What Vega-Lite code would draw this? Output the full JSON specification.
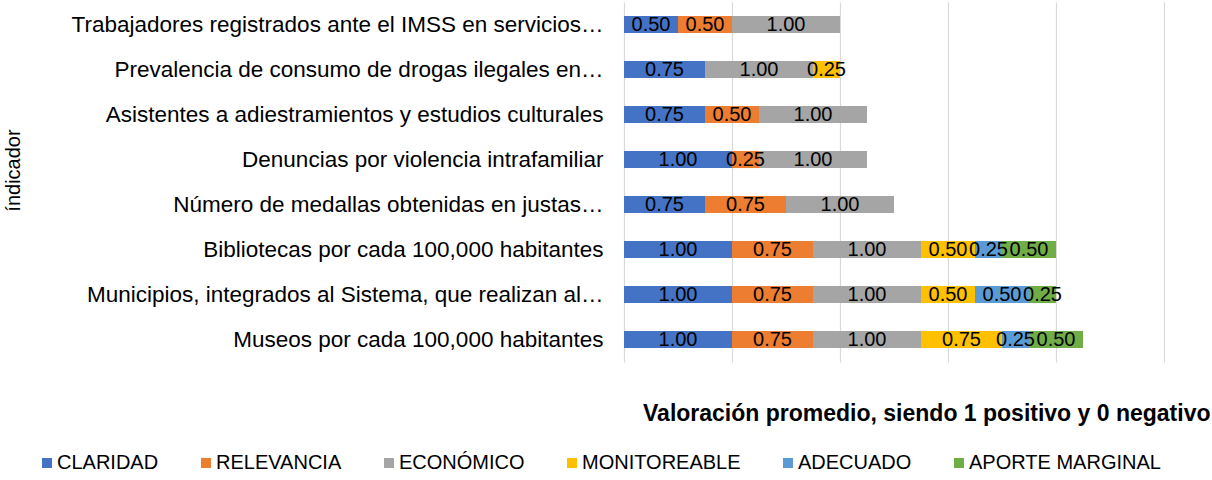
{
  "$schema": "https://vega.github.io/schema/vega-lite/v6.json",
  "autosize": "none",
  "width": 540,
  "height": 360,
  "padding": {"left": 624, "top": 2, "right": 48, "bottom": 118},
  "background": "white",
  "config": {"font": "Liberation Sans", "view": {"stroke": null}},
  "data": {"values": [
    {"indicador": "Trabajadores registrados ante el IMSS en servicios…", "criterio": "CLARIDAD", "orden": 1, "valor": 0.5},
    {"indicador": "Trabajadores registrados ante el IMSS en servicios…", "criterio": "RELEVANCIA", "orden": 2, "valor": 0.5},
    {"indicador": "Trabajadores registrados ante el IMSS en servicios…", "criterio": "ECONÓMICO", "orden": 3, "valor": 1.0},
    {"indicador": "Prevalencia de consumo de drogas ilegales en…", "criterio": "CLARIDAD", "orden": 1, "valor": 0.75},
    {"indicador": "Prevalencia de consumo de drogas ilegales en…", "criterio": "ECONÓMICO", "orden": 3, "valor": 1.0},
    {"indicador": "Prevalencia de consumo de drogas ilegales en…", "criterio": "MONITOREABLE", "orden": 4, "valor": 0.25},
    {"indicador": "Asistentes a adiestramientos y estudios culturales", "criterio": "CLARIDAD", "orden": 1, "valor": 0.75},
    {"indicador": "Asistentes a adiestramientos y estudios culturales", "criterio": "RELEVANCIA", "orden": 2, "valor": 0.5},
    {"indicador": "Asistentes a adiestramientos y estudios culturales", "criterio": "ECONÓMICO", "orden": 3, "valor": 1.0},
    {"indicador": "Denuncias por violencia intrafamiliar", "criterio": "CLARIDAD", "orden": 1, "valor": 1.0},
    {"indicador": "Denuncias por violencia intrafamiliar", "criterio": "RELEVANCIA", "orden": 2, "valor": 0.25},
    {"indicador": "Denuncias por violencia intrafamiliar", "criterio": "ECONÓMICO", "orden": 3, "valor": 1.0},
    {"indicador": "Número de medallas obtenidas en justas…", "criterio": "CLARIDAD", "orden": 1, "valor": 0.75},
    {"indicador": "Número de medallas obtenidas en justas…", "criterio": "RELEVANCIA", "orden": 2, "valor": 0.75},
    {"indicador": "Número de medallas obtenidas en justas…", "criterio": "ECONÓMICO", "orden": 3, "valor": 1.0},
    {"indicador": "Bibliotecas por cada 100,000 habitantes", "criterio": "CLARIDAD", "orden": 1, "valor": 1.0},
    {"indicador": "Bibliotecas por cada 100,000 habitantes", "criterio": "RELEVANCIA", "orden": 2, "valor": 0.75},
    {"indicador": "Bibliotecas por cada 100,000 habitantes", "criterio": "ECONÓMICO", "orden": 3, "valor": 1.0},
    {"indicador": "Bibliotecas por cada 100,000 habitantes", "criterio": "MONITOREABLE", "orden": 4, "valor": 0.5},
    {"indicador": "Bibliotecas por cada 100,000 habitantes", "criterio": "ADECUADO", "orden": 5, "valor": 0.25},
    {"indicador": "Bibliotecas por cada 100,000 habitantes", "criterio": "APORTE MARGINAL", "orden": 6, "valor": 0.5},
    {"indicador": "Municipios, integrados al Sistema, que realizan al…", "criterio": "CLARIDAD", "orden": 1, "valor": 1.0},
    {"indicador": "Municipios, integrados al Sistema, que realizan al…", "criterio": "RELEVANCIA", "orden": 2, "valor": 0.75},
    {"indicador": "Municipios, integrados al Sistema, que realizan al…", "criterio": "ECONÓMICO", "orden": 3, "valor": 1.0},
    {"indicador": "Municipios, integrados al Sistema, que realizan al…", "criterio": "MONITOREABLE", "orden": 4, "valor": 0.5},
    {"indicador": "Municipios, integrados al Sistema, que realizan al…", "criterio": "ADECUADO", "orden": 5, "valor": 0.5},
    {"indicador": "Municipios, integrados al Sistema, que realizan al…", "criterio": "APORTE MARGINAL", "orden": 6, "valor": 0.25},
    {"indicador": "Museos por cada 100,000 habitantes", "criterio": "CLARIDAD", "orden": 1, "valor": 1.0},
    {"indicador": "Museos por cada 100,000 habitantes", "criterio": "RELEVANCIA", "orden": 2, "valor": 0.75},
    {"indicador": "Museos por cada 100,000 habitantes", "criterio": "ECONÓMICO", "orden": 3, "valor": 1.0},
    {"indicador": "Museos por cada 100,000 habitantes", "criterio": "MONITOREABLE", "orden": 4, "valor": 0.75},
    {"indicador": "Museos por cada 100,000 habitantes", "criterio": "ADECUADO", "orden": 5, "valor": 0.25},
    {"indicador": "Museos por cada 100,000 habitantes", "criterio": "APORTE MARGINAL", "orden": 6, "valor": 0.5}
  ]},
  "encoding": {
    "y": {
      "field": "indicador",
      "type": "nominal",
      "sort": [
        "Trabajadores registrados ante el IMSS en servicios…",
        "Prevalencia de consumo de drogas ilegales en…",
        "Asistentes a adiestramientos y estudios culturales",
        "Denuncias por violencia intrafamiliar",
        "Número de medallas obtenidas en justas…",
        "Bibliotecas por cada 100,000 habitantes",
        "Municipios, integrados al Sistema, que realizan al…",
        "Museos por cada 100,000 habitantes"
      ],
      "scale": {"paddingInner": 0.62, "paddingOuter": 0.31},
      "axis": {
        "title": "índicador",
        "domain": false,
        "ticks": false,
        "labelPadding": 21,
        "labelFontSize": 22.5,
        "labelColor": "#000000",
        "labelLimit": 620,
        "titleFontSize": 20,
        "titleFontWeight": "normal",
        "titleColor": "#000000",
        "titleX": -611,
        "titleY": 168,
        "titleBaseline": "middle",
        "titleAngle": -90
      }
    },
    "order": {"field": "orden", "type": "quantitative"}
  },
  "layer": [
    {
      "mark": {"type": "bar"},
      "encoding": {
        "x": {
          "field": "valor",
          "type": "quantitative",
          "stack": "zero",
          "scale": {"domain": [0, 5], "nice": false},
          "axis": {
            "values": [0, 1, 2, 3, 4, 5],
            "labels": false,
            "ticks": false,
            "domain": false,
            "grid": true,
            "gridColor": "#d9d9d9",
            "gridWidth": 1.2,
            "title": "Valoración promedio, siendo 1 positivo y 0 negativo",
            "titleFontSize": 23,
            "titleFontWeight": "bold",
            "titleColor": "#000000",
            "titleAnchor": "end",
            "titleAlign": "right",
            "titleX": 586,
            "titleY": 51,
            "titleBaseline": "middle"
          }
        },
        "color": {
          "field": "criterio",
          "type": "nominal",
          "scale": {
            "domain": ["CLARIDAD", "RELEVANCIA", "ECONÓMICO", "MONITOREABLE", "ADECUADO", "APORTE MARGINAL"],
            "range": ["#4472C4", "#ED7D31", "#A5A5A5", "#FFC000", "#5B9BD5", "#70AD47"]
          },
          "legend": {
            "orient": "none",
            "legendX": -587,
            "legendY": 451,
            "direction": "horizontal",
            "title": null,
            "symbolType": "square",
            "symbolSize": 100,
            "symbolStrokeWidth": 0,
            "labelFontSize": 20,
            "labelColor": "#000000",
            "labelOffset": 0,
            "labelLimit": 400,
            "columnPadding": 37
          }
        }
      }
    },
    {
      "mark": {"type": "text", "fontSize": 20, "color": "#000000"},
      "encoding": {
        "x": {
          "field": "valor",
          "type": "quantitative",
          "stack": "zero",
          "bandPosition": 0.5,
          "scale": {"domain": [0, 5], "nice": false},
          "axis": {
            "values": [0, 1, 2, 3, 4, 5],
            "labels": false,
            "ticks": false,
            "domain": false,
            "grid": true,
            "gridColor": "#d9d9d9",
            "gridWidth": 1.2,
            "title": "Valoración promedio, siendo 1 positivo y 0 negativo",
            "titleFontSize": 23,
            "titleFontWeight": "bold",
            "titleColor": "#000000",
            "titleAnchor": "end",
            "titleAlign": "right",
            "titleX": 586,
            "titleY": 51,
            "titleBaseline": "middle"
          }
        },
        "detail": {"field": "criterio"},
        "text": {"field": "valor", "type": "quantitative", "format": ".2f"}
      }
    }
  ]
}
